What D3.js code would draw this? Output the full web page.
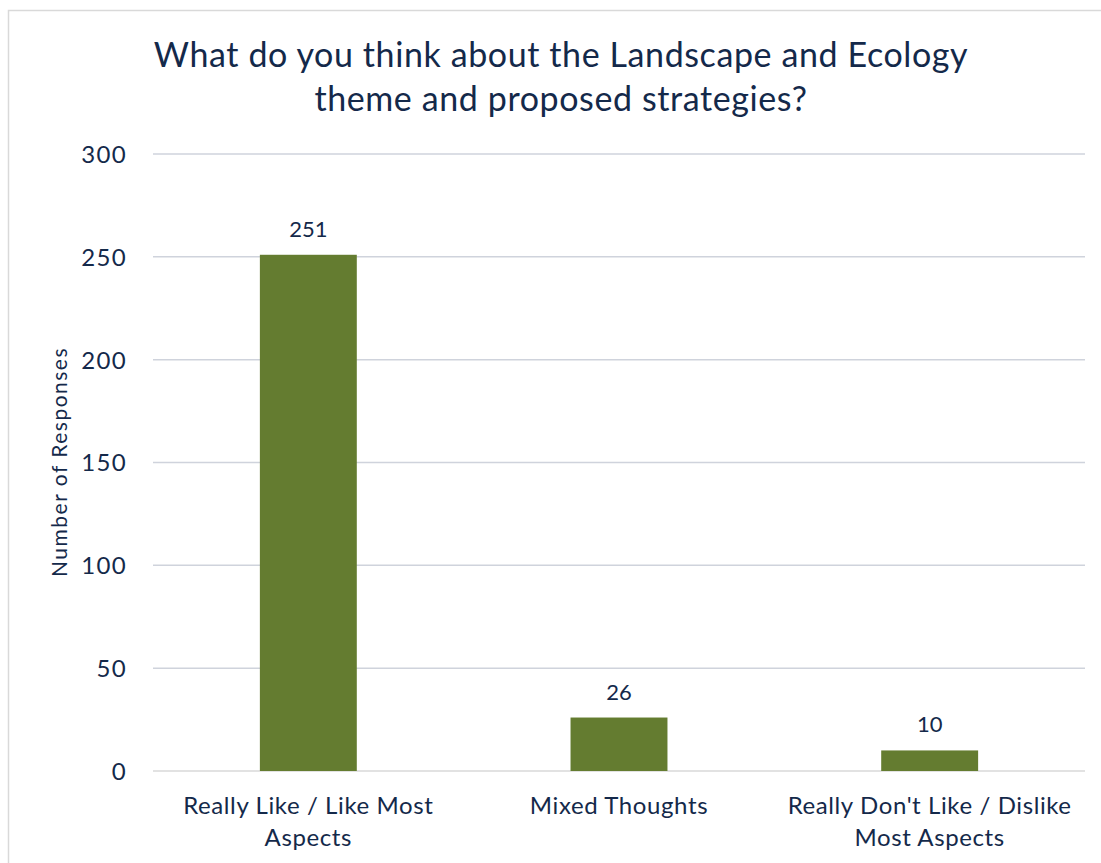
<!DOCTYPE html>
<html><head><meta charset="utf-8">
<script src="https://cdn.jsdelivr.net/npm/d3@7"></script>
<style>body{margin:0;background:#fff;} svg{display:block;font-family:Lato, "Open Sans", sans-serif;}</style>
</head><body>
<svg id="c" width="1101" height="863"></svg>
<script>
const categories = [["Really Like / Like Most","Aspects"],["Mixed Thoughts"],["Really Don't Like / Dislike","Most Aspects"]];
const values = [251, 26, 10];
const yTicks = [0, 50, 100, 150, 200, 250, 300];
const titleLines = ["What do you think about the Landscape and Ecology","theme and proposed strategies?"];
const yTitle = "Number of Responses";

const svg = d3.select("#c");
const textCol = "#14294a", barCol = "#647c30";
svg.append("rect").attr("x",8.5).attr("y",10.5).attr("width",1110).attr("height",870)
  .attr("fill","#fff").attr("stroke","#d9d9d9").attr("stroke-width",1.5);

const x = d3.scaleBand().domain(d3.range(categories.length)).range([153,1085]).paddingInner(0.688).paddingOuter(0.344);
const y = d3.scaleLinear().domain([0,300]).range([771,154]);

svg.append("g").selectAll("line").data(yTicks).join("line")
  .attr("x1",153).attr("x2",1085).attr("y1",d=>y(d)).attr("y2",d=>y(d))
  .attr("stroke",d=>d===0?"#d9d9d9":"#cfd3dc").attr("stroke-width",1.5);

const yAxis = d3.axisLeft(y).tickValues(yTicks).tickSize(0).tickPadding(0);
const ga = svg.append("g").attr("transform","translate(127,0)").call(yAxis);
ga.select(".domain").remove();
ga.selectAll("text").attr("fill",textCol).style("font-size","24px").style("letter-spacing","1.3px")
  .style("font-family","Lato, sans-serif").attr("dy","0.35em");

svg.append("g").selectAll("rect").data(values).join("rect")
  .attr("x",(d,i)=>x(i)).attr("width",x.bandwidth())
  .attr("y",d=>y(d)).attr("height",d=>y(0)-y(d)).attr("fill",barCol);

svg.append("g").selectAll("text").data(values).join("text")
  .attr("x",(d,i)=>x(i)+x.bandwidth()/2).attr("y",d=>y(d)-18)
  .attr("text-anchor","middle").attr("fill",textCol).style("font-size","22px").text(d=>d);

const cl = svg.append("g").selectAll("text").data(categories).join("text")
  .attr("x",(d,i)=>x(i)+x.bandwidth()/2).attr("y",814)
  .attr("text-anchor","middle").attr("fill",textCol).style("font-size","24px").style("letter-spacing","0.6px");
cl.selectAll("tspan").data(d=>d).join("tspan")
  .attr("x",function(){return this.parentNode.getAttribute("x");})
  .attr("dy",(d,i)=>i===0?0:32).text(d=>d);

svg.append("text").attr("transform","translate(67,462) rotate(-90)").attr("text-anchor","middle")
  .attr("fill",textCol).style("font-size","21px").style("letter-spacing","1.5px").text(yTitle);

svg.append("g").selectAll("text").data(titleLines).join("text")
  .attr("x",561).attr("y",(d,i)=>67+i*44).attr("text-anchor","middle")
  .attr("fill",textCol).style("font-size","34px").style("letter-spacing","0.6px").text(d=>d);
</script>
</body></html>
